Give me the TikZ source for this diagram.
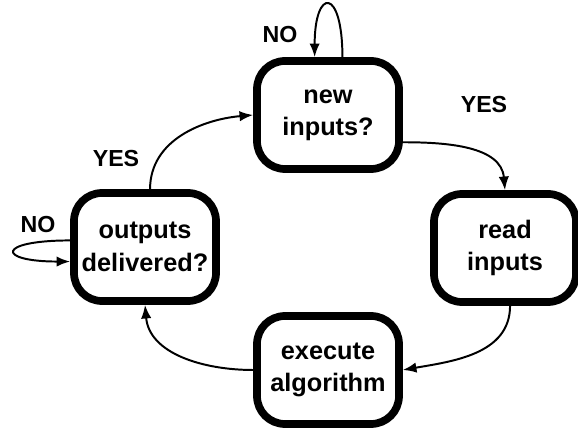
\documentclass[tikz,border=0pt]{standalone}
\usepackage{fontspec}
\setmainfont{Liberation Sans}
\usepackage{tikz}
\usetikzlibrary{arrows.meta}

\tikzset{
    state/.style={draw, line width=5.5pt, rounded corners=0.7cm, align=center,
        minimum width=3.55cm, minimum height=2.7cm,
        font=\bfseries\fontsize{18}{23}\selectfont},
    answer/.style={font=\bfseries\fontsize{16.5}{18}\selectfont},
    flow/.style={line width=1.4pt, -{Latex[length=3.4mm,width=2.6mm]}},
}

\begin{document}
\begin{tikzpicture}
        \useasboundingbox (0,0) rectangle (14.45,10.825);
        \node[state] (new) at (8.2,7.95) {new\\inputs?};
        \node[state] (read) at (12.625,4.625) {read\\inputs};
        \node[state] (exec) at (8.2,1.575) {execute\\algorithm};
        \node[state] (out) at (3.625,4.65) {outputs\\delivered?};
        \node[answer] (noNew) at (7.0,9.95) {NO};
        \node[answer] (yesNew) at (12.1,8.2) {YES};
        \node[answer] (yesOut) at (2.9,6.85) {YES};
        \node[answer] (noOut) at (0.95,5.2) {NO};
        \draw[flow] (new.-20) to[out=0,in=95] (read.north);
        \draw[flow] (read.-85) to[out=-90,in=10] (exec.east);
        \draw[flow] (exec.west) to[out=180,in=-85] (out.south);
        \draw[flow] (out.85) to[out=90,in=185] (new.west);
        \draw[flow] (new.76) .. controls +(0,1.75) and +(0,1.75) .. (new.103);
        \draw[flow] (out.175) .. controls +(-1.85,0) and +(-1.85,0) .. (out.191);
\end{tikzpicture}
\end{document}
